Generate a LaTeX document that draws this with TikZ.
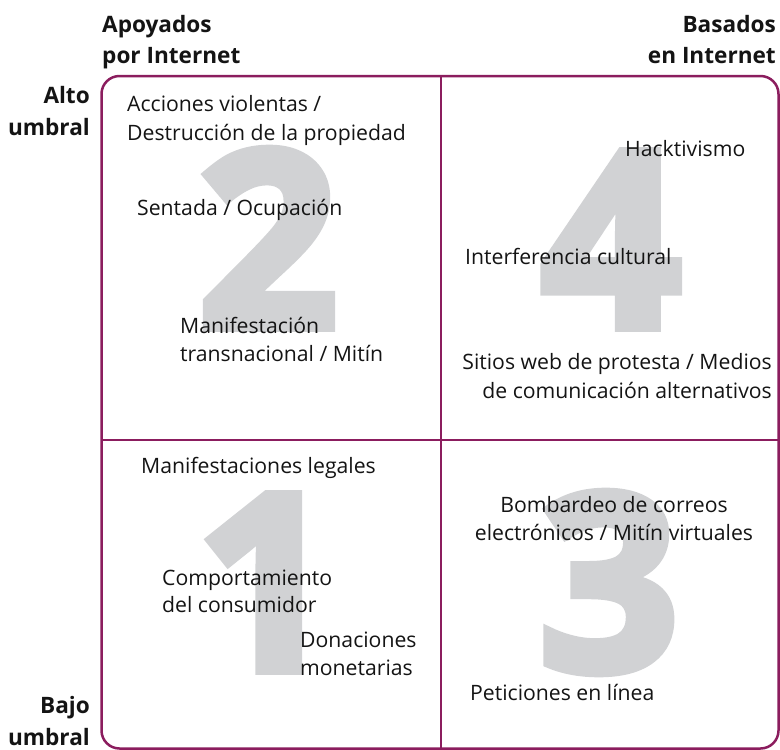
\documentclass[tikz,border=0pt]{standalone}
\usepackage{fontspec}
\setmainfont{Open Sans}
\newfontfamily\digitfam[FakeBold=4]{Open Sans}
\definecolor{frame}{RGB}{139,29,94}
\definecolor{digit}{RGB}{209,210,212}
\definecolor{ink}{RGB}{20,20,20}
\tikzset{
  body/.style={inner sep=0pt, text=ink, font=\fontsize{21.2}{25}\selectfont},
  head/.style={inner sep=0pt, text=ink, font=\fontsize{22.6}{26}\selectfont\bfseries},
  bignum/.style={inner sep=0pt, text=digit, anchor=base, font=\fontsize{245}{245}\digitfam\bfseries},
  frameline/.style={draw=frame, line width=2.5pt}
}
\begin{document}
\begin{tikzpicture}[x=1pt,y=-1pt]
\useasboundingbox (0,0) rectangle (780,750);
% big digits
\node[bignum] (n2) at (268,327) {2};
\node[bignum] (n4) at (611,327) {4};
\node[bignum] (n1) at (266,670) {1};
\node[bignum] (n3) at (609,670) {3};
% frame
\draw[frameline, rounded corners=18pt] (101.5,76) rectangle (778.5,748.5);
\draw[frameline] (441,76) -- (441,748.5);
\draw[frameline] (101.5,440) -- (778.5,440);
% headers
\node[head, anchor=base west] (h1a) at (102,32) {Apoyados};
\node[head, anchor=base west] (h1b) at (102,63) {por Internet};
\node[head, anchor=base east] (h2a) at (776,32) {Basados};
\node[head, anchor=base east] (h2b) at (776,63) {en Internet};
\node[head, anchor=base east] (v1a) at (90,103) {Alto};
\node[head, anchor=base east] (v1b) at (90,135) {umbral};
\node[head, anchor=base east] (v2a) at (90,713) {Bajo};
\node[head, anchor=base east] (v2b) at (90,745) {umbral};
% quadrant 2
\node[body, anchor=base west] (q2a) at (127,111) {Acciones violentas /};
\node[body, anchor=base west] (q2b) at (127,140) {Destrucción de la propiedad};
\node[body, anchor=base west] (q2c) at (137,215) {Sentada / Ocupación};
\node[body, anchor=base west] (q2d) at (180,333) {Manifestación};
\node[body, anchor=base west] (q2e) at (180,361) {transnacional / Mitín};
% quadrant 4
\node[body, anchor=base west] (q4a) at (625,156) {Hacktivismo};
\node[body, anchor=base west] (q4b) at (465,264) {Interferencia cultural};
\node[body, anchor=base east] (q4c) at (772,369) {Sitios web de protesta / Medios};
\node[body, anchor=base east] (q4d) at (772,398) {de comunicación alternativos};
% quadrant 1
\node[body, anchor=base west] (q1a) at (141,473) {Manifestaciones legales};
\node[body, anchor=base west] (q1b) at (162,585) {Comportamiento};
\node[body, anchor=base west] (q1c) at (162,612) {del consumidor};
\node[body, anchor=base west] (q1d) at (300,647) {Donaciones};
\node[body, anchor=base west] (q1e) at (300,675) {monetarias};
% quadrant 3
\node[body, anchor=base] (q3a) at (614,512) {Bombardeo de correos};
\node[body, anchor=base] (q3b) at (614,540) {electrónicos / Mitín virtuales};
\node[body, anchor=base west] (q3c) at (470,700) {Peticiones en línea};
\end{tikzpicture}
\end{document}
